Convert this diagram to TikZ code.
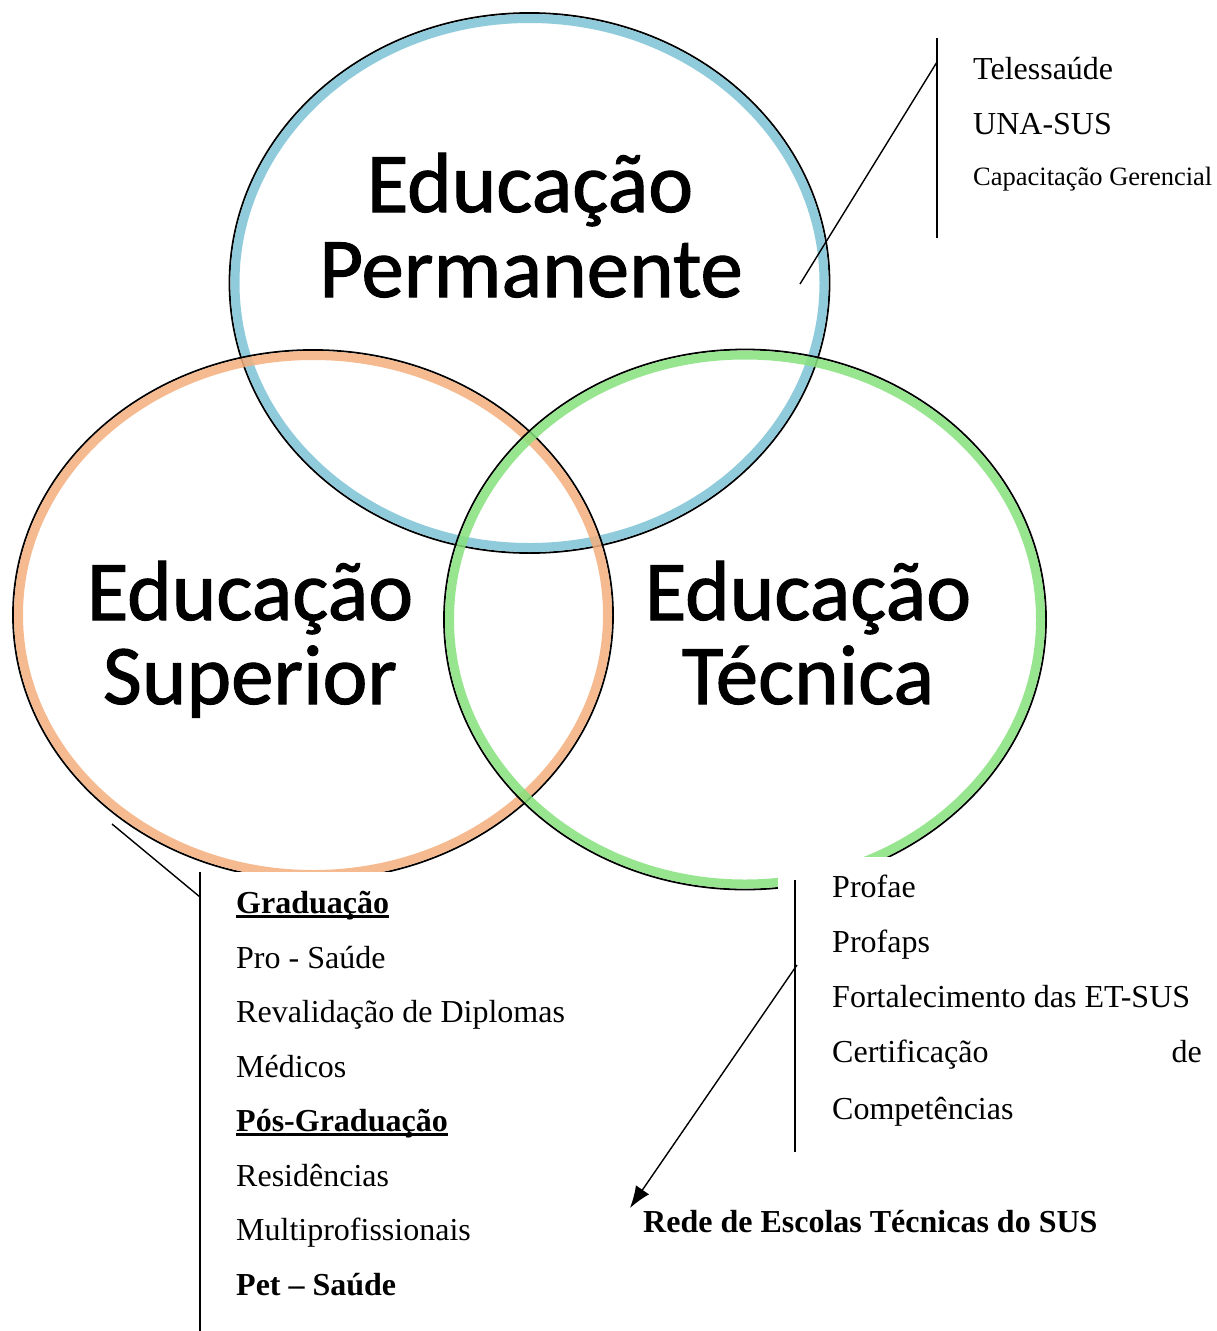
\documentclass[tikz,border=0pt]{standalone}
\usepackage{fontspec}
\setmainfont{Liberation Serif}
\newfontfamily\labelfont[FakeBold=1.2]{Carlito}
\usetikzlibrary{arrows.meta}
\definecolor{ringblue}{RGB}{125,195,215}
\definecolor{ringorange}{RGB}{245,175,125}
\definecolor{ringgreen}{RGB}{135,225,125}
\tikzset{
  ringline/.style={line width=9pt, draw opacity=0.85},
  ringedge/.style={draw=black, line width=1.8pt},
  biglabel/.style={font=\labelfont\fontsize{85}{92}\selectfont, inner sep=0pt, anchor=base},
  listtext/.style={font=\fontsize{32}{38}\selectfont, inner sep=0pt, anchor=base west},
  smalltext/.style={font=\fontsize{26.5}{32}\selectfont, inner sep=0pt, anchor=base west},
  leader/.style={draw=black, line width=1.4pt},
  mask/.style={fill=white, draw=none}
}
\newcommand{\thickul}[1]{\setbox0\hbox{#1}\rlap{\rule[-4.5pt]{\wd0}{2.6pt}}\box0}
\begin{document}
\begin{tikzpicture}[x=1pt, y=-1pt]
\useasboundingbox (0,0) rectangle (1217,1331);
\fill[white] (0,0) rectangle (1217,1331);

% circle centres
\coordinate (cP) at (529.5,283);
\coordinate (cS) at (313,615);
\coordinate (cT) at (745,619.5);

% rings
\draw[ringedge] (cP) ellipse (300 and 270);
\draw[ringline, ringblue] (cP) ellipse (294.5 and 264.5);
\draw[ringedge] (cS) ellipse (300 and 265);
\draw[ringline, ringorange] (cS) ellipse (294.5 and 259.5);
\draw[ringedge] (cT) ellipse (301 and 270);
\draw[ringline, ringgreen] (cT) ellipse (295.5 and 264.5);

% white masks behind lists
\fill[mask] (200,872) rectangle (600,1331);
\fill[mask] (778,857) rectangle (1217,1331);

% circle labels
\node[biglabel] (pe1) at (530,212) {Educação};
\node[biglabel] (pe2) at (531,297) {Permanente};
\node[biglabel] (se1) at (250,620) {Educação};
\node[biglabel] (se2) at (250,704) {Superior};
\node[biglabel] (te1) at (808,620) {Educação};
\node[biglabel] (te2) at (808,704) {Técnica};

% top callout
\coordinate (tpin) at (800,284);
\coordinate (tjoin) at (937,62);
\coordinate (ttop) at (937,38);
\coordinate (tbot) at (937,238);
\draw[leader] (tpin) -- (tjoin);
\draw[leader] (ttop) -- (tbot);
\node[listtext] (tele) at (973,79) {Telessaúde};
\node[listtext] (una) at (973,134) {UNA-SUS};
\node[smalltext] (cap) at (973,185) {Capacitação Gerencial};

% left callout
\coordinate (lpin) at (112,824);
\coordinate (ljoin) at (200,897);
\coordinate (ltop) at (200,872);
\coordinate (lbot) at (200,1331);
\draw[leader] (lpin) -- (ljoin);
\draw[leader] (ltop) -- (lbot);
\node[listtext] (grad) at (236,913) {\textbf{\thickul{Graduação}}};
\node[listtext] (pro) at (236,968) {Pro - Saúde};
\node[listtext] (reval) at (236,1022) {Revalidação de Diplomas};
\node[listtext] (med) at (236,1077) {Médicos};
\node[listtext] (pos) at (236,1131) {\textbf{\thickul{Pós-Graduação}}};
\node[listtext] (res) at (236,1186) {Residências};
\node[listtext] (multi) at (236,1240) {Multiprofissionais};
\node[listtext] (pet) at (236,1295) {\textbf{Pet – Saúde}};

% right callout
\coordinate (rtop) at (795,880);
\coordinate (rbot) at (795,1152);
\coordinate (rjoin) at (797,965);
\coordinate (rtip) at (630,1208);
\draw[leader] (rtop) -- (rbot);
\draw[leader, -{Latex[length=22pt,width=16pt]}] (rjoin) -- (rtip);
\node[listtext] (profae) at (832,897) {Profae};
\node[listtext] (profaps) at (832,952) {Profaps};
\node[listtext] (fort) at (832,1007) {Fortalecimento das ET-SUS};
\node[listtext] (cert) at (832,1062) {Certificação};
\node[listtext, anchor=base east] (certde) at (1202,1062) {de};
\node[listtext] (comp) at (832,1119) {Competências};
\node[listtext] (rede) at (643,1232) {\textbf{Rede de Escolas Técnicas do SUS}};
\end{tikzpicture}
\end{document}
